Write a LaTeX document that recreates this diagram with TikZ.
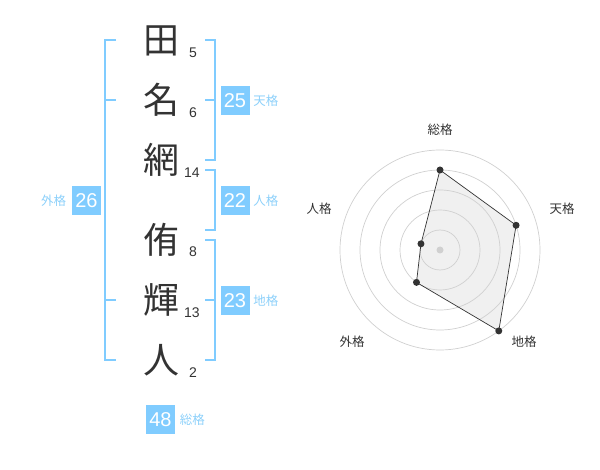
\documentclass[tikz,border=0pt]{standalone}
\usepackage{fontspec}
\setmainfont{Liberation Sans}
\newfontfamily\jp{Noto Sans CJK JP}
\usetikzlibrary{positioning}
\definecolor{kakublue}{RGB}{128,204,255}
\definecolor{kakutext}{RGB}{140,208,250}
\definecolor{ink}{RGB}{51,51,51}
\definecolor{ringgray}{RGB}{208,208,208}
\definecolor{area}{RGB}{240,240,240}
\begin{document}
\begin{tikzpicture}[x=1pt,y=-1pt,
  kanji/.style={text=ink,inner sep=0pt,font=\jp\fontsize{36}{36}\selectfont},
  strokes/.style={text=ink,inner sep=0pt,font=\fontsize{14}{14}\selectfont},
  score/.style={fill=kakublue,text=white,minimum size=29pt,inner sep=0pt,font=\fontsize{20}{20}\selectfont},
  kaku/.style={text=kakutext,inner sep=0pt,font=\jp\fontsize{12.5}{12.5}\selectfont},
  bracket/.style={draw=kakublue,line width=2pt},
  axis/.style={text=ink,inner sep=0pt,font=\jp\fontsize{12.5}{12.5}\selectfont},
  ring/.style={draw=ringgray,line width=0.7pt},
  point/.style={circle,fill=ink,inner sep=0pt,minimum size=7pt}]

       \useasboundingbox (0,0) rectangle (600,470);

       \node[kanji] (c1) at (161, 41) {田};
       \node[kanji] (c2) at (161, 100) {名};
       \node[kanji] (c3) at (161, 160) {網};
       \node[kanji] (c4) at (161, 240) {侑};
       \node[kanji] (c5) at (161, 300) {輝};
       \node[kanji] (c6) at (161, 360) {人};

       \node[strokes] (s1) at (193, 53) {5};
       \node[strokes] (s2) at (193, 113) {6};
       \node[strokes] (s3) at (192, 173) {14};
       \node[strokes] (s4) at (193, 252) {8};
       \node[strokes] (s5) at (192, 313) {13};
       \node[strokes] (s6) at (193, 373) {2};

       \draw[bracket] (116, 40) -- (105, 40) -- (105, 360) -- (116, 360);
       \draw[bracket] (105, 100) -- (116, 100);
       \draw[bracket] (105, 300) -- (116, 300);
       \draw[bracket] (205, 40) -- (215, 40) -- (215, 160) -- (205, 160);
       \draw[bracket] (215, 100) -- (205, 100);
       \draw[bracket] (205, 170) -- (215, 170) -- (215, 230) -- (205, 230);
       \draw[bracket] (205, 240) -- (215, 240) -- (215, 360) -- (205, 360);
       \draw[bracket] (215, 300) -- (205, 300);

       \node[score] (gai) at (86.5, 200.5) {26};
       \node[kaku, left=5.5pt of gai] {外格};
       \node[score] (ten) at (235, 100.5) {25};
       \node[kaku, right=3.5pt of ten] {天格};
       \node[score] (jin) at (235, 200.5) {22};
       \node[kaku, right=3.5pt of jin] {人格};
       \node[score] (chi) at (235, 300.5) {23};
       \node[kaku, right=3.5pt of chi] {地格};
       \node[score] (sou) at (160.5, 419.5) {48};
       \node[kaku, right=4.5pt of sou] {総格};

       \begin{scope}[shift={(440, 250)}]
         \coordinate (o) at (0, 0);
         \coordinate (p-sou) at (-90:80);
         \coordinate (p-ten) at (-18:80);
         \coordinate (p-chi) at (54:100);
         \coordinate (p-gai) at (126:40);
         \coordinate (p-jin) at (198:20);

         \fill[area] (p-sou) -- (p-ten) -- (p-chi) -- (p-gai) -- (p-jin) -- cycle;
         \draw[ring] (o) circle[radius=20pt];
         \draw[ring] (o) circle[radius=40pt];
         \draw[ring] (o) circle[radius=60pt];
         \draw[ring] (o) circle[radius=80pt];
         \draw[ring] (o) circle[radius=100pt];
         \draw[ink, line width=0.7pt] (p-sou) -- (p-ten) -- (p-chi) -- (p-gai) -- (p-jin) -- cycle;

         \node[point, fill=ringgray] at (o) {};
         \node[point] at (p-sou) {};
         \node[point] at (p-ten) {};
         \node[point] at (p-chi) {};
         \node[point] at (p-gai) {};
         \node[point] at (p-jin) {};
       \end{scope}

       \node[axis] (a-sou) at (440, 130) {総格};
       \node[axis] (a-ten) at (562, 209) {天格};
       \node[axis] (a-chi) at (524, 342) {地格};
       \node[axis] (a-gai) at (352, 342) {外格};
       \node[axis] (a-jin) at (319, 209) {人格};
     \end{tikzpicture}
\end{document}
